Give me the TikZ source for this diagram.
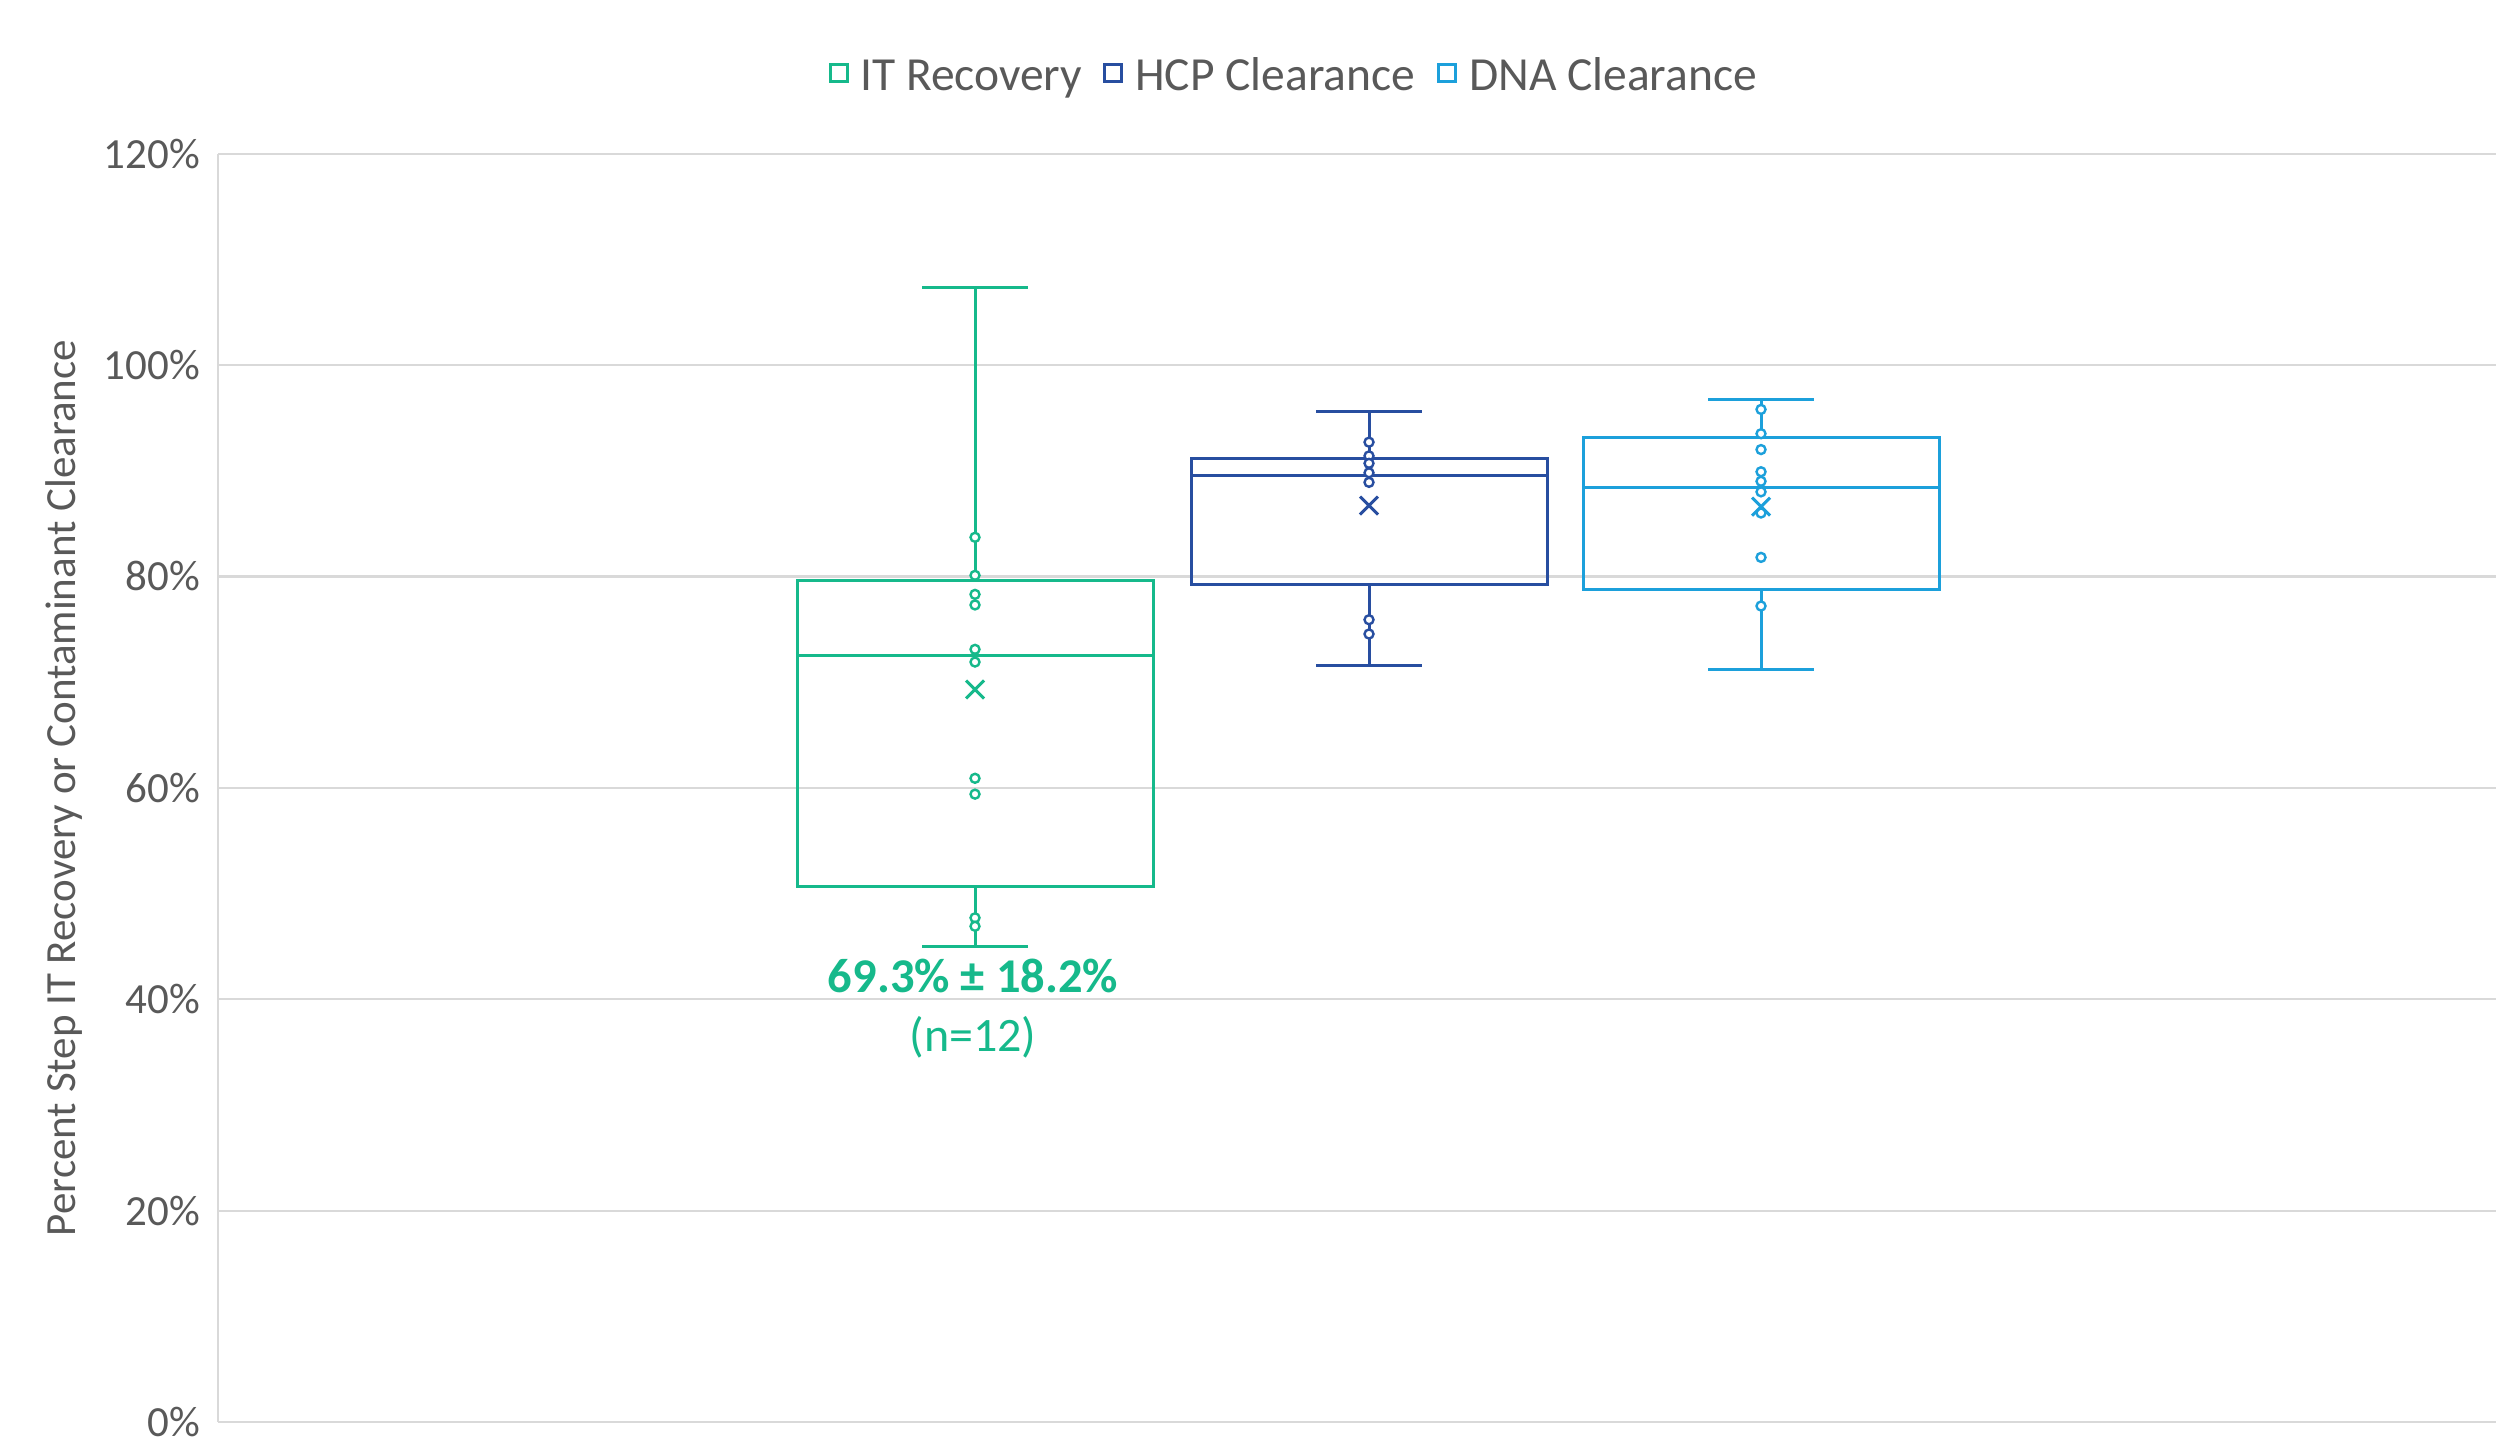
\documentclass[tikz,border=0pt]{standalone}
\usepackage{fontspec}
\setmainfont{Carlito}
\definecolor{itc}{HTML}{16B98B}
\definecolor{hcpc}{HTML}{284EA0}
\definecolor{dnac}{HTML}{1CA0DB}
\definecolor{txtc}{HTML}{595959}
\definecolor{gridc}{HTML}{D9D9D9}
\pgfmathdeclarefunction{vy}{1}{\pgfmathparse{1422-10.57*#1}}
\tikzset{
  gridline/.style={draw=gridc, line width=2.2pt},
  boxline/.style={line width=3pt},
  ptline/.style={line width=2.4pt, fill=white},
  meanline/.style={line width=3pt},
  ticklab/.style={text=txtc, anchor=east, inner sep=0pt, font=\fontsize{43}{50}\selectfont},
  legsq/.style={draw, line width=2.6pt, minimum size=17pt, inner sep=0pt},
  legtext/.style={text=txtc, anchor=base west, inner sep=0pt, font=\fontsize{47.5}{56}\selectfont},
}
\newcommand\bxplot[8]{%
  \draw[#1, boxline] (#2,{vy(#6)}) -- (#2,{vy(#7)});
  \draw[#1, boxline] (#2,{vy(#4)}) -- (#2,{vy(#3)});
  \draw[#1, boxline] ({#2-53},{vy(#7)}) -- ({#2+53},{vy(#7)});
  \draw[#1, boxline] ({#2-53},{vy(#3)}) -- ({#2+53},{vy(#3)});
  \draw[#1, boxline] ({#2-178},{vy(#4)}) rectangle ({#2+178},{vy(#6)});
  \draw[#1, boxline] ({#2-178},{vy(#5)}) -- ({#2+178},{vy(#5)});
}
\newcommand\bxmean[3]{%
  \draw[#1, meanline] ({#2-9},{vy(#3)-9}) -- ({#2+9},{vy(#3)+9})
                      ({#2-9},{vy(#3)+9}) -- ({#2+9},{vy(#3)-9});
}
\begin{document}
\begin{tikzpicture}[x=1pt,y=-1pt]
\useasboundingbox[fill=white] (0,0) rectangle (2496,1437);
% grid and tick labels
\foreach \v/\lab in {0/0\%,20/20\%,40/40\%,60/60\%,80/80\%,100/100\%,120/120\%}{
  \draw[gridline] (218,{vy(\v)}) -- (2496,{vy(\v)});
  \node[ticklab] (tick\v) at (200,{vy(\v)}) {\lab};
}
\draw[gridline] (218,{vy(120)}) -- (218,{vy(0)});
% axis title
\node[text=txtc, rotate=90, inner sep=0pt, font=\fontsize{43}{50}\selectfont] (ytitle) at (64,788) {Percent Step IT Recovery or Contaminant Clearance};
% legend
\node[legsq, draw=itc] (sqit) at (839,73) {};
\node[legtext] (lgit) at (860,90.5) {IT Recovery};
\node[legsq, draw=hcpc] (sqhcp) at (1113,73) {};
\node[legtext] (lghcp) at (1135,90.5) {HCP Clearance};
\node[legsq, draw=dnac] (sqdna) at (1447,73) {};
\node[legtext] (lgdna) at (1469,90.5) {DNA Clearance};
% IT Recovery
\bxplot{itc}{975}{45.0}{50.7}{72.5}{79.66}{107.3}{69.3}
\foreach \p in {83.7,80.1,78.3,77.3,73.1,71.9,60.9,59.4,47.7,46.9}{
  \draw[itc, ptline] (975,{vy(\p)}) circle[radius=4.5];
}
\bxmean{itc}{975}{69.3}
% HCP Clearance
\bxplot{hcpc}{1369}{71.55}{79.2}{89.5}{91.2}{95.6}{86.7}
\foreach \p in {92.7,91.4,90.7,89.8,88.9,75.9,74.55}{
  \draw[hcpc, ptline] (1369,{vy(\p)}) circle[radius=4.5];
}
\bxmean{hcpc}{1369}{86.7}
% DNA Clearance
\bxplot{dnac}{1761}{71.2}{78.8}{88.4}{93.1}{96.7}{86.6}
\foreach \p in {95.8,93.5,92.0,89.9,89.0,88.0,86.0,81.8,77.2}{
  \draw[dnac, ptline] (1761,{vy(\p)}) circle[radius=4.5];
}
\bxmean{dnac}{1761}{86.6}
% annotation
\node[text=itc, anchor=base, inner sep=0pt, font=\fontsize{48.5}{56}\selectfont\bfseries] (ann) at (973,992.7) {69.3\% ± 18.2\%};
\node[text=itc, anchor=base, inner sep=0pt, font=\fontsize{48}{56}\selectfont] (annn) at (973,1051.7) {(n=12)};
\end{tikzpicture}
\end{document}
